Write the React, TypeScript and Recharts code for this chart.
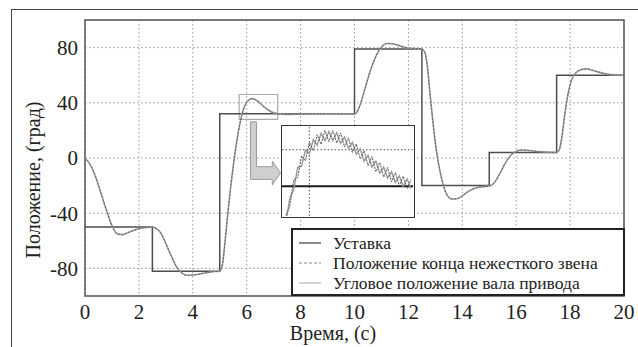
import React from 'react';
import { LineChart, Line, XAxis, YAxis, CartesianGrid, ReferenceArea, ReferenceLine } from 'recharts';

// ---------- data ----------
const setTimes = [0, 2.5, 5, 10, 12.5, 15, 17.5, 20];
const setValues = [-50, -82, 32, 79, -20, 4, 60, 60];

const times = [
  0, 0.2, 0.4, 0.6, 0.8, 1.0, 1.2, 1.4, 1.6, 1.8, 2.0, 2.2, 2.5,
  2.6, 2.8, 3.0, 3.2, 3.4, 3.6, 3.8, 4.0, 4.4, 4.8, 5.0,
  5.1, 5.2, 5.3, 5.4, 5.5, 5.6, 5.7, 5.8, 5.9, 6.0, 6.1, 6.2, 6.3, 6.4, 6.6, 6.8, 7.0, 7.3, 7.6, 8.0, 9.0, 10.0,
  10.1, 10.2, 10.4, 10.6, 10.8, 11.0, 11.2, 11.4, 11.6, 11.8, 12.0, 12.5,
  12.6, 12.7, 12.8, 12.9, 13.0, 13.1, 13.2, 13.3, 13.4, 13.6, 13.8, 14.0, 14.2, 14.4, 14.6, 15.0,
  15.1, 15.2, 15.4, 15.6, 15.8, 16.0, 16.2, 16.4, 16.8, 17.5,
  17.6, 17.7, 17.8, 17.9, 18.0, 18.1, 18.2, 18.4, 18.6, 18.8, 19.0, 19.2, 19.5, 20,
];
const linkEnd = [
  0, -5, -14, -26, -38, -49, -55, -55.5, -54, -52.5, -51.2, -50.5, -50,
  -50.5, -54, -62, -71, -79, -83.5, -85, -84.8, -83.5, -82.3, -82,
  -77, -60, -40, -22, -6, 8, 20, 29.5, 36.5, 40.3, 42.3, 43, 42.5, 41.3, 37.8, 34.8, 32.7, 31.8, 31.6, 31.8, 32, 32,
  33.5, 38, 51, 64, 74, 80.5, 83, 82.8, 81.8, 80.6, 79.6, 79,
  77, 67, 47, 28, 11, -2, -12, -20, -25.5, -29.7, -29.5, -27.5, -24.5, -22.5, -21.2, -20.3,
  -19.5, -17.5, -11, -3.5, 2, 4.8, 5.8, 5.6, 4.7, 4,
  6, 16, 31, 44, 53, 58.5, 61.5, 64, 64.6, 63.8, 62.6, 61.5, 60.4, 60,
];
const shaftAngle = [
  0, -5, -14, -26, -38, -49, -55, -55.5, -54, -52.5, -51.2, -50.5, -50,
  -50.5, -54, -62, -71, -79, -83.5, -85, -84.8, -83.5, -82.3, -82,
  -77, -60, -40, -22, -6, 8, 20, 29.5, 36.5, 40.3, 42.3, 43, 42.5, 41.3, 37.8, 34.8, 32.7, 31.8, 31.6, 31.8, 32, 32,
  33.5, 38, 51, 64, 74, 80.5, 83, 82.8, 81.8, 80.6, 79.6, 79,
  77, 67, 47, 28, 11, -2, -12, -20, -25.5, -29.7, -29.5, -27.5, -24.5, -22.5, -21.2, -20.3,
  -19.5, -17.5, -11, -3.5, 2, 4.8, 5.8, 5.6, 4.7, 4,
  6, 16, 31, 44, 53, 58.5, 61.5, 64, 64.6, 63.8, 62.6, 61.5, 60.4, 60,
];

// inset (zoomed window around the first overshoot)
const insetTimes = [
  5.72, 5.76, 5.80, 5.84, 5.88, 5.92, 5.96, 6.00, 6.04, 6.08, 6.12, 6.16, 6.20, 6.24, 6.28, 6.32, 6.36,
  6.40, 6.44, 6.48, 6.52, 6.56, 6.60, 6.64, 6.68, 6.72, 6.76, 6.80, 6.84, 6.88, 6.92, 6.96, 7.00, 7.04,
];
const insetLink = [
  20, 25.6, 27.6, 33.4, 33.9, 38.6, 37.6, 41.6, 39.8, 43.3, 41.2, 44.2, 41.8, 44.2, 41.5, 43.7, 40.6,
  42.6, 39.4, 41.3, 38.0, 39.8, 36.5, 38.5, 35.2, 37.2, 34.0, 36.1, 33.0, 35.0, 32.1, 34.2, 31.5, 33.5,
];
const insetShaft = [
  20, 24.2, 29.4, 31.3, 36.1, 36.4, 39.9, 39.2, 42.2, 41.0, 43.6, 42.0, 44.0, 42.0, 43.7, 41.4, 42.8,
  40.3, 41.6, 39.0, 40.2, 37.5, 38.8, 36.2, 37.5, 34.9, 36.2, 33.8, 35.2, 32.8, 34.3, 32.0, 33.6, 31.5,
];
const insetSetpoint = 32;

const xTicks = [0, 2, 4, 6, 8, 10, 12, 14, 16, 18, 20];
const yTicks = [-80, -40, 0, 40, 80];

const seriesNames = ['Уставка', 'Положение конца нежесткого звена', 'Угловое положение вала привода'];
const xTitle = 'Время, (с)';
const yTitle = 'Положение, (град)';

// ---------- derived tables ----------
const mainData = times.map((t, i) => ({ t, link: linkEnd[i], shaft: shaftAngle[i] }));
const setData = setTimes.map((t, i) => ({ t, sp: setValues[i] }));
const insetData = insetTimes.map((t, i) => ({ t, link: insetLink[i], shaft: insetShaft[i] }));

const FONT = "'Liberation Serif', 'DejaVu Serif', serif";
const SP_COLOR = '#4d4d4d';
const LINK_COLOR = '#5a5a5a';
const SHAFT_COLOR = '#a0a0a0';

const legendStyles = [
  { stroke: SP_COLOR, dash: undefined as string | undefined, w: 1.3 },
  { stroke: '#888', dash: '3 2', w: 1 },
  { stroke: '#bbb', dash: undefined as string | undefined, w: 1.3 },
];

// L-shaped arrow drawn inside a reference-area box
const ArrowShape = (props: any) => {
  const { x, y, width, height } = props;
  if (width == null || height == null) return null;
  const sx = (f: number) => x + f * width;
  const sy = (f: number) => y + f * height;
  const pts = [
    [0, 0], [0.2, 0], [0.2, 0.71], [0.73, 0.71], [0.73, 0.62], [1, 0.81],
    [0.73, 1], [0.73, 0.91], [0, 0.91],
  ].map(([a, b]) => `${sx(a)},${sy(b)}`).join(' ');
  return <polygon points={pts} fill="#cfcfcf" stroke="#9a9a9a" strokeWidth={1} />;
};

const hiddenTick = { fill: 'none', fontSize: 1 };

export default function App() {
  return (
    <div style={{ position: 'fixed', left: 0, top: 0, width: 638, height: 347, overflow: 'hidden', background: '#fff', fontFamily: FONT }}>
      {/* outer frame */}
      <div style={{ position: 'absolute', left: 11, top: 9, width: 700, height: 400, border: '1.5px solid #444' }} />

      <div style={{ position: 'absolute', left: 0, top: 0 }}>
        <LineChart width={638} height={347} margin={{ top: 20, right: 14, bottom: 21, left: 40 }} style={{ fontFamily: FONT }}>
          <CartesianGrid stroke="#999" strokeDasharray="1.5 2.5" />
          <XAxis
            type="number"
            dataKey="t"
            domain={[0, 20]}
            ticks={xTicks}
            axisLine={false}
            tickLine={false}
            tickSize={0}
            tickMargin={8}
            height={30}
            allowDuplicatedCategory={false}
            tick={{ fontSize: 21, fontFamily: FONT, fill: '#222' }}
          />
          <XAxis xAxisId="tickTop" orientation="top" type="number" dataKey="t" domain={[0, 20]} ticks={xTicks} height={0} mirror axisLine={false} tickSize={4} tickLine={{ stroke: '#666' }} tick={hiddenTick} />
          <XAxis xAxisId="tickBottom" orientation="bottom" type="number" dataKey="t" domain={[0, 20]} ticks={xTicks} height={0} mirror axisLine={false} tickSize={4} tickLine={{ stroke: '#666' }} tick={hiddenTick} />
          <YAxis
            type="number"
            domain={[-100, 100]}
            ticks={yTicks}
            axisLine={false}
            tickLine={false}
            tickSize={0}
            tickMargin={7}
            width={45}
            tick={{ fontSize: 21, fontFamily: FONT, fill: '#222' }}
          />
          <YAxis yAxisId="tickLeft" orientation="left" type="number" domain={[-100, 100]} ticks={yTicks} width={0} mirror axisLine={false} tickSize={4} tickLine={{ stroke: '#666' }} tick={hiddenTick} />
          <YAxis yAxisId="tickRight" orientation="right" type="number" domain={[-100, 100]} ticks={yTicks} width={0} mirror axisLine={false} tickSize={4} tickLine={{ stroke: '#666' }} tick={hiddenTick} />
          <ReferenceArea x1={0} x2={20} y1={-100} y2={100} fill="none" stroke="#555" strokeWidth={1.5} ifOverflow="visible" />
          <ReferenceArea x1={5.72} x2={7.15} y1={28} y2={46} fill="none" stroke="#aaa" strokeWidth={1.2} />
          <ReferenceArea x1={6.14} x2={7.25} y1={-19.6} y2={26.2} shape={ArrowShape} ifOverflow="visible" />
          <Line data={setData} dataKey="sp" type="stepAfter" stroke={SP_COLOR} strokeWidth={1.5} dot={false} isAnimationActive={false} />
          <Line data={mainData} dataKey="shaft" type="monotone" stroke={SHAFT_COLOR} strokeWidth={1.6} dot={false} isAnimationActive={false} />
          <Line data={mainData} dataKey="link" type="monotone" stroke={LINK_COLOR} strokeWidth={0.9} strokeDasharray="2 1.5" dot={false} isAnimationActive={false} />
        </LineChart>
      </div>

      {/* inset */}
      <div style={{ position: 'absolute', left: 281, top: 125, width: 134, height: 93, border: '1.5px solid #333', background: '#fff', boxSizing: 'border-box' }}>
        <LineChart width={131} height={90} data={insetData} margin={{ top: 0, right: 0, bottom: 0, left: 0 }}>
          <XAxis type="number" dataKey="t" domain={[5.72, 7.06]} hide allowDataOverflow />
          <YAxis type="number" domain={[25.5, 45.2]} hide allowDataOverflow />
          <ReferenceLine x={6} stroke="#555" strokeDasharray="1.5 2" />
          <ReferenceLine y={40} stroke="#555" strokeDasharray="1.5 2" />
          <ReferenceLine y={insetSetpoint} stroke="#1a1a1a" strokeWidth={2} />
          <Line dataKey="shaft" type="linear" stroke="#999" strokeWidth={1.4} dot={false} isAnimationActive={false} />
          <Line dataKey="link" type="linear" stroke="#555" strokeWidth={1} strokeDasharray="2 1" dot={false} isAnimationActive={false} />
        </LineChart>
      </div>

      {/* legend */}
      <div style={{ position: 'absolute', left: 291, top: 228, width: 334, height: 68, border: '2px solid #222', background: '#fff', boxSizing: 'border-box', paddingTop: 3 }}>
        {seriesNames.map((name, i) => (
          <div key={name} style={{ display: 'flex', alignItems: 'center', height: 20, whiteSpace: 'nowrap' }}>
            <svg width={40} height={20} style={{ flex: 'none' }}>
              <line x1={6} x2={28} y1={10} y2={10} stroke={legendStyles[i].stroke} strokeWidth={legendStyles[i].w} strokeDasharray={legendStyles[i].dash} />
            </svg>
            <span style={{ fontSize: 17.5, color: '#222', lineHeight: '20px', fontFamily: FONT }}>{name}</span>
          </div>
        ))}
      </div>

      {/* axis titles */}
      <div style={{ position: 'absolute', left: 33, top: 180, transform: 'translate(-50%, -50%) rotate(-90deg)', whiteSpace: 'nowrap', fontSize: 20, color: '#222', fontFamily: FONT }}>
        {yTitle}
      </div>
      <div style={{ position: 'absolute', left: 333, top: 322, transform: 'translateX(-50%)', whiteSpace: 'nowrap', fontSize: 20, color: '#222', lineHeight: 'normal', fontFamily: FONT }}>
        {xTitle}
      </div>
    </div>
  );
}
